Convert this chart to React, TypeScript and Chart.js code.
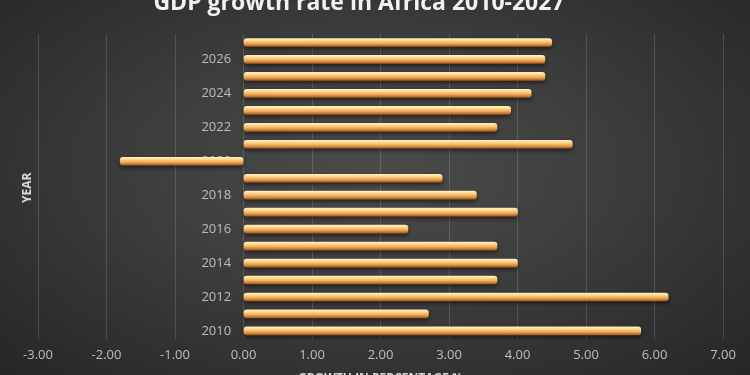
import React, { useEffect, useRef } from "react";
import { Chart, registerables } from "chart.js";

Chart.register(...registerables);

const years = ["2010","2011","2012","2013","2014","2015","2016","2017","2018","2019","2020","2021","2022","2023","2024","2025","2026","2027"];
const growth = [5.8, 2.7, 6.2, 3.7, 4.0, 3.7, 2.4, 4.0, 3.4, 2.9, -1.8, 4.8, 3.7, 3.9, 4.2, 4.4, 4.4, 4.5];
const xMin = -3;
const xMax = 7;
const chartTitle = "GDP growth rate in Africa 2010-2027";
const xTitle = "GROWTH IN PERCENTAGE %";
const yTitle = "YEAR";

const FONT = "'Open Sans', sans-serif";

const titlesPlugin = {
  id: "titlesPlugin",
  afterDraw(chart: any) {
    const ctx = chart.ctx;
    const area = chart.chartArea;
    ctx.save();
    ctx.fillStyle = "#f2f2f2";
    ctx.font = `bold 23px ${FONT}`;
    ctx.textAlign = "center";
    ctx.textBaseline = "alphabetic";
    ctx.fillText(chartTitle, 359, 10);
    ctx.fillStyle = "#d9d9d9";
    ctx.font = `bold 12px ${FONT}`;
    ctx.fillText(xTitle, (area.left + area.right) / 2, 382);
    ctx.translate(28, (area.top + area.bottom) / 2 + 1);
    ctx.rotate(-Math.PI / 2);
    ctx.textBaseline = "middle";
    ctx.fillText(yTitle, 0, 0);
    ctx.restore();
  },
};

const shadowPlugin = {
  id: "shadowPlugin",
  beforeDatasetsDraw(chart: any) {
    const ctx = chart.ctx;
    ctx.save();
    ctx.shadowColor = "rgba(0,0,0,0.55)";
    ctx.shadowBlur = 4;
    ctx.shadowOffsetY = 2;
  },
  afterDatasetsDraw(chart: any) {
    chart.ctx.restore();
  },
};

export default function App() {
  const ref = useRef<HTMLCanvasElement>(null);
  useEffect(() => {
    if (!ref.current) return;
    const chart = new Chart(ref.current, {
      type: "bar",
      data: {
        labels: years,
        datasets: [
          {
            data: growth,
            barThickness: 8,
            borderRadius: 3,
            borderSkipped: false,
            borderWidth: 0,
            backgroundColor: (c: any) => {
              const ch = c.chart;
              const ys = ch.scales && ch.scales.y;
              if (!ys || c.dataIndex === undefined) return "#f0b35a";
              const yc = ys.getPixelForValue(c.dataIndex);
              if (!isFinite(yc)) return "#f0b35a";
              const g = ch.ctx.createLinearGradient(0, yc - 4, 0, yc + 4);
              g.addColorStop(0, "#fff0c0");
              g.addColorStop(0.3, "#fbd48a");
              g.addColorStop(0.65, "#eca34e");
              g.addColorStop(1, "#a45e22");
              return g;
            },
          },
        ],
      },
      options: {
        indexAxis: "y",
        animation: false,
        responsive: false,
        maintainAspectRatio: false,
        layout: { padding: { left: 38, right: 27, top: 34, bottom: 4 } },
        plugins: {
          legend: { display: false },
          title: { display: false },
          tooltip: { enabled: false },
        },
        scales: {
          x: {
            type: "linear",
            min: xMin,
            max: xMax,
            ticks: {
              stepSize: 1,
              color: "#bfbfbf",
              font: { family: FONT, size: 13 },
              padding: 8,
              callback: (v: any) => Number(v).toFixed(2),
            },
            grid: { color: "rgba(255,255,255,0.15)", lineWidth: 1, drawTicks: false },
            border: { display: false },
          },
          y: {
            type: "category",
            reverse: true,
            z: 1,
            position: { x: -0.18 } as any,
            ticks: {
              autoSkip: false,
              color: "rgba(210,210,210,0.85)",
              font: { family: FONT, size: 13 },
              callback: function (this: any, v: any, i: number) {
                const lab = years[i];
                return Number(lab) % 2 === 0 ? lab : "";
              },
            },
            grid: { display: false, drawTicks: false },
            border: { display: false },
          },
        },
      },
      plugins: [shadowPlugin, titlesPlugin],
    } as any);
    return () => chart.destroy();
  }, []);
  return (
    <div
      style={{
        position: "absolute",
        left: 0,
        top: 0,
        width: 750,
        height: 375,
        background: "radial-gradient(ellipse at 50% 45%, #4b4b4b 0%, #3f3f3f 40%, #2c2c2c 85%, #262626 100%)",
      }}
    >
      <canvas ref={ref} width={750} height={375} style={{ display: "block" }} />
    </div>
  );
}
